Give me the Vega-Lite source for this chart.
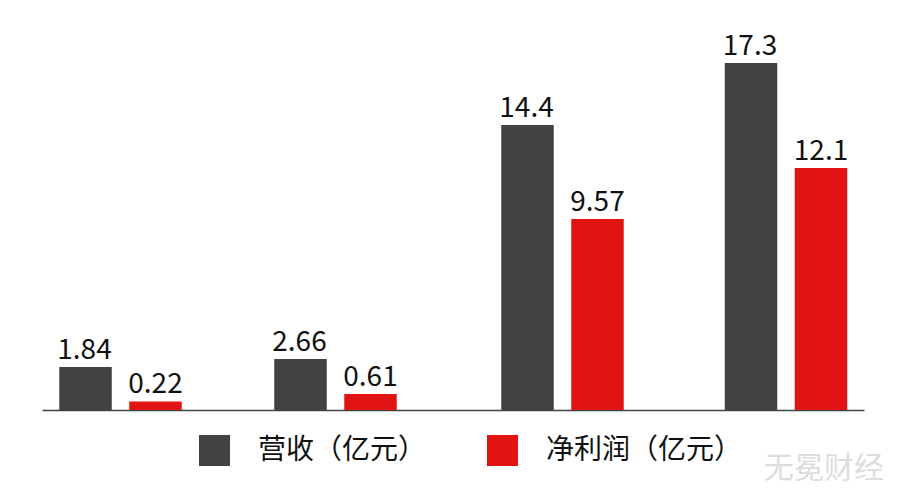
{
  "$schema": "https://vega.github.io/schema/vega-lite/v6.json",
  "width": 822,
  "height": 410,
  "autosize": "none",
  "padding": {"left": 42, "right": 36, "top": 0, "bottom": 90},
  "background": "white",
  "view": {"stroke": null},
  "title": {
    "text": "无冕财经",
    "orient": "bottom",
    "anchor": "end",
    "dx": 20,
    "dy": -52,
    "offset": 40,
    "font": "Noto Sans CJK SC",
    "fontSize": 30,
    "fontWeight": "normal",
    "color": "#dddddd"
  },
  "data": {
    "values": [
      {"group": 1, "series": "营收（亿元）", "bar_height": 2.15, "label": "1.84"},
      {"group": 1, "series": "净利润（亿元）", "bar_height": 0.43, "label": "0.22"},
      {"group": 2, "series": "营收（亿元）", "bar_height": 2.55, "label": "2.66"},
      {"group": 2, "series": "净利润（亿元）", "bar_height": 0.8, "label": "0.61"},
      {"group": 3, "series": "营收（亿元）", "bar_height": 14.25, "label": "14.4"},
      {"group": 3, "series": "净利润（亿元）", "bar_height": 9.55, "label": "9.57"},
      {"group": 4, "series": "营收（亿元）", "bar_height": 17.35, "label": "17.3"},
      {"group": 4, "series": "净利润（亿元）", "bar_height": 12.1, "label": "12.1"}
    ]
  },
  "encoding": {
    "x": {
      "field": "group",
      "type": "quantitative",
      "scale": {"domain": [0, 1, 2, 3, 4, 5], "range": [0, 78.5, 293.5, 520.5, 744, 822]},
      "axis": {"title": null, "ticks": false, "labels": false, "grid": false, "domainColor": "#444444", "domainWidth": 1.5}
    },
    "y": {
      "field": "bar_height",
      "type": "quantitative",
      "scale": {"domain": [0, 20.5]},
      "axis": null
    }
  },
  "layer": [
    {
      "transform": [{"filter": "datum.series === '营收（亿元）'"}],
      "mark": {"type": "bar", "width": 52.5, "xOffset": -35},
      "encoding": {
        "color": {
          "field": "series",
          "type": "nominal",
          "scale": {"domain": ["营收（亿元）", "净利润（亿元）"], "range": ["#424242", "#e01412"]},
          "legend": {
            "title": null,
            "orient": "none",
            "legendX": 157,
            "legendY": 435,
            "direction": "horizontal",
            "columns": 2,
            "columnPadding": 60,
            "symbolType": "square",
            "symbolSize": 961,
            "symbolStrokeWidth": 0,
            "labelOffset": 28,
            "labelFont": "Noto Sans CJK SC",
            "labelFontSize": 28,
            "labelColor": "#111111",
            "labelLimit": 300
          }
        }
      }
    },
    {
      "transform": [{"filter": "datum.series === '净利润（亿元）'"}],
      "mark": {"type": "bar", "width": 52.5, "xOffset": 35},
      "encoding": {"color": {"field": "series", "type": "nominal"}}
    },
    {
      "transform": [{"filter": "datum.series === '营收（亿元）'"}],
      "mark": {"type": "text", "xOffset": -36, "dy": -8, "baseline": "alphabetic", "font": "Noto Sans CJK SC", "fontSize": 28, "color": "#111111"},
      "encoding": {"text": {"field": "label", "type": "nominal"}}
    },
    {
      "transform": [{"filter": "datum.series === '净利润（亿元）'"}],
      "mark": {"type": "text", "xOffset": 35, "dy": -8, "baseline": "alphabetic", "font": "Noto Sans CJK SC", "fontSize": 28, "color": "#111111"},
      "encoding": {"text": {"field": "label", "type": "nominal"}}
    }
  ]
}
